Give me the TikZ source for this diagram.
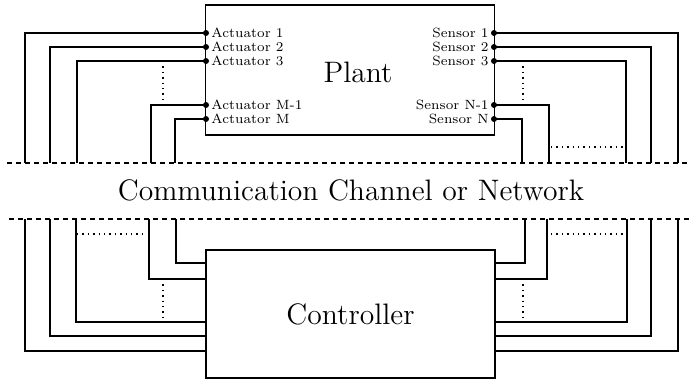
\documentclass[tikz,border=0pt]{standalone}
\usetikzlibrary{positioning}
\tikzset{
  wire/.style={line width=0.8pt},
  box/.style={draw, line width=0.8pt, inner sep=0pt},
  channel/.style={line width=0.8pt, dash pattern=on 2.6pt off 1.9pt},
  gap/.style={line width=0.7pt, dotted},
  bigtext/.style={font=\fontsize{14.8}{17}\selectfont},
  portlabel/.style={font=\fontsize{6.7}{8}\selectfont, inner sep=2.5pt},
  port/.style={circle, fill, inner sep=0pt, minimum size=3pt}
}
\begin{document}
\begin{tikzpicture}[x=0.5pt, y=-0.5pt]
    \useasboundingbox (0,0) rectangle (690,380);
    % Strecke
    \node[box, minimum width=144.5pt, minimum height=65pt] (plant) at (350,70) {};
    \node[bigtext] (plantname) at (358,72) {Plant};
    % Regler
    \node[box, bigtext, minimum width=144.5pt, minimum height=64pt] (ctrl) at (350.5,314) {Controller};
    % Kanal
    \coordinate (chtopL) at (7,163);
    \coordinate (chtopR) at (690,163);
    \coordinate (chbotL) at (9,219);
    \coordinate (chbotR) at (690,219);
    \draw[channel] (chtopL) -- (chtopR);
    \draw[channel] (chbotL) -- (chbotR);
    \node[bigtext] (chname) at (351,190) {Communication Channel or Network};
    % Aktoren
    \foreach \name/\y/\x [count=\i] in {Actuator 1/33/25, Actuator 2/47/50, Actuator 3/61/77,
                                        Actuator M-1/105/151, Actuator M/119/175} {
      \coordinate (a\i) at (206,\y);
      \coordinate (ab\i) at (\x,163);
      \node[portlabel, anchor=west] (al\i) at (a\i) {\name};
      \draw[wire] (a\i) -| (ab\i);
      \node[port] (ap\i) at (a\i) {};
    }
    % Sensoren
    \foreach \name/\y/\x [count=\i] in {Sensor 1/33/678, Sensor 2/47/651, Sensor 3/61/626,
                                        Sensor N-1/105/549, Sensor N/119/522} {
      \coordinate (s\i) at (494,\y);
      \coordinate (sb\i) at (\x,163);
      \node[portlabel, anchor=east] (sl\i) at (s\i) {\name};
      \draw[wire] (s\i) -| (sb\i);
      \node[port] (sp\i) at (s\i) {};
    }
    % Regler Eingaenge und Ausgaenge
    \foreach \x/\y [count=\i] in {25/351, 50/336, 76/322, 149/279, 176/263} {
      \coordinate (ct\i) at (\x,219);
      \coordinate (cl\i) at (206,\y);
      \draw[wire] (ct\i) |- (cl\i);
    }
    \foreach \x/\y [count=\i] in {678/351, 651/336, 627/322, 547/279, 525/263} {
      \coordinate (dt\i) at (\x,219);
      \coordinate (cr\i) at (495,\y);
      \draw[wire] (dt\i) |- (cr\i);
    }
    % Punkte
    \draw[gap] (163,61) -- (163,105);
    \draw[gap] (523,61) -- (523,105);
    \draw[gap] (551,147) -- (624,147);
    \draw[gap] (77,234) -- (146,234);
    \draw[gap] (551,234) -- (624,234);
    \draw[gap] (163,279) -- (163,322);
    \draw[gap] (523,279) -- (523,322);
\end{tikzpicture}
\end{document}
